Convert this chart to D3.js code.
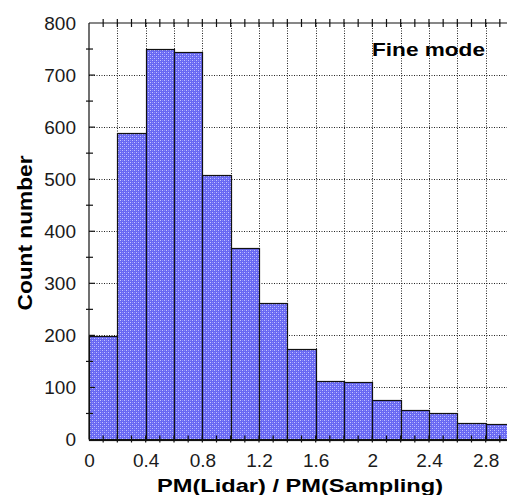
<!DOCTYPE html>
<html>
<head>
<meta charset="utf-8">
<script src="https://cdn.jsdelivr.net/npm/d3@7"></script>
<style>
  html, body { margin: 0; padding: 0; background: #fff; }
  svg { display: block; }
  text { font-family: "Liberation Sans", Arial, sans-serif; }
</style>
</head>
<body>
<svg id="chart" width="507" height="495"></svg>
<script>
// ---- data ----
const binStarts = [0, 0.2, 0.4, 0.6, 0.8, 1.0, 1.2, 1.4, 1.6, 1.8, 2.0, 2.2, 2.4, 2.6, 2.8];
const binWidth = 0.2;
const counts = [198, 588, 750, 745, 508, 368, 262, 173, 113, 110, 75, 57, 51, 31, 29];
const xTickLabels = [0, 0.4, 0.8, 1.2, 1.6, 2, 2.4, 2.8];
const yTickLabels = [0, 100, 200, 300, 400, 500, 600, 700, 800];
const xLabel = "PM(Lidar) / PM(Sampling)";
const yLabel = "Count number";
const annotation = "Fine mode";

(function () {
const svg = d3.select("#chart");
const pL = 89, pR = 514, pT = 23, pB = 439.5;
const x = d3.scaleLinear().domain([0, 3]).range([pL, pR]);
const y = d3.scaleLinear().domain([0, 800]).range([pB, pT]);

// pattern fill
const defs = svg.append("defs");
const pat = defs.append("pattern").attr("id", "dots")
  .attr("width", 4).attr("height", 4).attr("patternUnits", "userSpaceOnUse");
pat.append("rect").attr("width", 4).attr("height", 4).attr("fill", "#6868f2").attr("shape-rendering", "crispEdges");
[[0,0,"#c4c4ff"],[2,2,"#c4c4ff"],[2,0,"#8c8cfb"],[0,2,"#8c8cfb"]].forEach(([px,py,c]) =>
  pat.append("rect").attr("x", px).attr("y", py).attr("width", 1).attr("height", 1)
    .attr("fill", c).attr("shape-rendering", "crispEdges"));

// grid
const g = svg.append("g");
const gridX = d3.range(1, 15).map(i => i * 0.2);
g.selectAll("line.gx").data(gridX).join("line")
  .attr("x1", d => Math.round(x(d)) + 0.5).attr("x2", d => Math.round(x(d)) + 0.5)
  .attr("y1", pT).attr("y2", pB)
  .attr("stroke", "#222").attr("stroke-dasharray", "1,1.5");
g.selectAll("line.gy").data(yTickLabels.filter(v => v > 0 && v < 800)).join("line")
  .attr("x1", pL).attr("x2", 507)
  .attr("y1", d => Math.round(y(d)) + 0.5).attr("y2", d => Math.round(y(d)) + 0.5)
  .attr("stroke", "#222").attr("stroke-dasharray", "1,1.5");

// bars
svg.append("g").selectAll("rect").data(counts).join("rect")
  .attr("x", (d, i) => Math.round(x(binStarts[i])) + 0.5)
  .attr("width", (d, i) => Math.round(x(binStarts[i] + binWidth)) - Math.round(x(binStarts[i])))
  .attr("y", d => Math.round(y(d)) + 0.5)
  .attr("height", d => Math.round(pB) - Math.round(y(d)))
  .attr("fill", "url(#dots)")
  .attr("stroke", "#111").attr("stroke-width", 1.2);

// axis lines
const ax = svg.append("g").attr("stroke", "#111").attr("stroke-width", 1.2);
ax.append("line").attr("x1", pL).attr("x2", pL).attr("y1", pT).attr("y2", pB);
ax.append("line").attr("x1", pL).attr("x2", 507).attr("y1", pT).attr("y2", pT);
ax.append("line").attr("x1", pL).attr("x2", 507).attr("y1", pB).attr("y2", pB);

// ticks
const xMinor = d3.range(1, 30).map(i => i / 10);
ax.selectAll("line.tt").data(xMinor).join("line")
  .attr("x1", d => x(d)).attr("x2", d => x(d)).attr("y1", pT - 4).attr("y2", pT + 4);
ax.selectAll("line.tb").data(xMinor).join("line")
  .attr("x1", d => x(d)).attr("x2", d => x(d)).attr("y1", pB - 4).attr("y2", pB + 3);
const yMinor = d3.range(1, 16, 2).map(i => i * 50);
ax.selectAll("line.ym").data(yMinor).join("line")
  .attr("x1", pL - 3).attr("x2", pL + 4).attr("y1", d => y(d)).attr("y2", d => y(d));
ax.selectAll("line.yM").data(yTickLabels.filter(v => v > 0 && v < 800)).join("line")
  .attr("x1", pL).attr("x2", pL + 6).attr("y1", d => y(d)).attr("y2", d => y(d));

// tick labels via d3 axes
const yAxis = d3.axisLeft(y).tickValues(yTickLabels).tickSize(0).tickPadding(13).tickFormat(d3.format("d"));
const ya = svg.append("g").attr("transform", `translate(${pL},0)`).call(yAxis);
ya.select(".domain").remove();
ya.selectAll("text").attr("font-size", 19).attr("fill", "#1a1a1a")
  .attr("font-family", "Liberation Sans, Arial, sans-serif");

const xAxis = d3.axisBottom(x).tickValues(xTickLabels).tickSize(0).tickPadding(14.5).tickFormat(d => String(d));
const xa = svg.append("g").attr("transform", `translate(0,${pB})`).call(xAxis);
xa.select(".domain").remove();
xa.selectAll("text").attr("font-size", 19).attr("fill", "#1a1a1a")
  .attr("font-family", "Liberation Sans, Arial, sans-serif");

// axis titles
svg.append("text").attr("x", 300).attr("y", 492).attr("text-anchor", "middle")
  .attr("font-size", 19).attr("font-weight", "bold").attr("fill", "#000")
  .attr("textLength", 286).attr("lengthAdjust", "spacingAndGlyphs")
  .text(xLabel);
svg.append("text").attr("transform", "translate(32,233) rotate(-90)").attr("text-anchor", "middle")
  .attr("font-size", 20.5).attr("font-weight", "bold").attr("fill", "#000")
  .attr("textLength", 155).attr("lengthAdjust", "spacingAndGlyphs")
  .text(yLabel);
svg.append("text").attr("x", 372).attr("y", 56)
  .attr("font-size", 18.5).attr("font-weight", "bold").attr("fill", "#000")
  .attr("textLength", 113).attr("lengthAdjust", "spacingAndGlyphs")
  .text(annotation);
})();
</script>
</body>
</html>
